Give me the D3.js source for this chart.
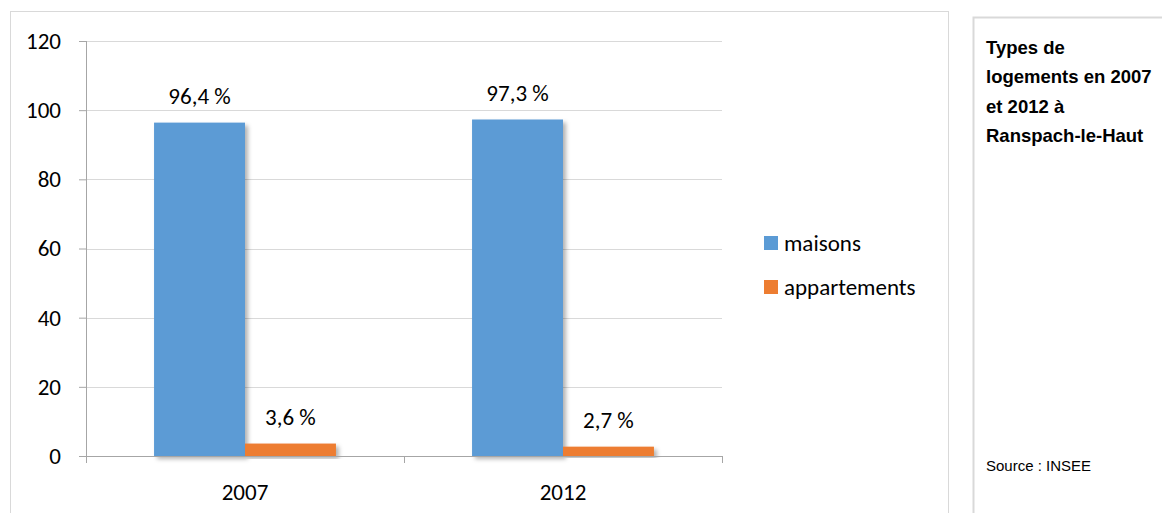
<!DOCTYPE html>
<meta charset="utf-8">
<style>
body { margin: 0; background: #fff; }
.tick text { font-family: Carlito, Calibri, "Open Sans", sans-serif; font-size: 23px; fill: #000; }
.label { font-family: Carlito, Calibri, "Open Sans", sans-serif; font-size: 23px; fill: #000; }
.side { font-family: "Liberation Sans", Arial, sans-serif; fill: #000; }
</style>
<body>
<script src="https://d3js.org/d3.v7.min.js"></script>
<script>

var years = ["2007", "2012"];
var series = ["maisons", "appartements"];
var maisons = [96.4, 97.3];
var appartements = [3.6, 2.7];
var yTicks = [0, 20, 40, 60, 80, 100, 120];
var colors = ["#5b9bd5", "#ed7d31"];
var titleLines = ["Types de", "logements en 2007", "et 2012 à", "Ranspach-le-Haut"];
var source = "Source : INSEE";

var values = [maisons, appartements];
var plot = {left: 86, right: 722, top: 41, bottom: 456};

var svg = d3.select("body").append("svg")
    .attr("width", 1162)
    .attr("height", 513);

var defs = svg.append("defs");
var f = defs.append("filter").attr("id", "shadow")
    .attr("x", "-10%").attr("y", "-10%").attr("width", "130%").attr("height", "130%");
f.append("feDropShadow").attr("dx", 3).attr("dy", 3).attr("stdDeviation", 2)
    .attr("flood-color", "#000").attr("flood-opacity", 0.3);

// chart frame
svg.append("rect")
    .attr("x", 10.5).attr("y", 11.5).attr("width", 938).attr("height", 520)
    .style("fill", "none").style("stroke", "#d9d9d9");

// side box
svg.append("rect")
    .attr("x", 973.5).attr("y", 17.5).attr("width", 200).attr("height", 520)
    .style("fill", "none").style("stroke", "#d9d9d9").style("stroke-width", 2);

var x = d3.scaleBand().domain(years).range([plot.left, plot.right]);
var x1 = d3.scaleBand().domain(series)
    .range([x.bandwidth() * 0.214, x.bandwidth() * 0.786]);
var y = d3.scaleLinear().domain([0, 120]).range([plot.bottom, plot.top]);

// gridlines
svg.append("g")
    .selectAll("line")
    .data(yTicks.slice(1))
    .enter().append("line")
    .attr("x1", plot.left).attr("x2", plot.right)
    .attr("y1", function(d) { return Math.round(y(d)) + 0.5; })
    .attr("y2", function(d) { return Math.round(y(d)) + 0.5; })
    .style("stroke", "#d9d9d9");

// bars
years.forEach(function(yr, i) {
  series.forEach(function(s, j) {
    var v = values[j][i];
    svg.append("rect")
      .attr("x", x(yr) + x1(s))
      .attr("y", y(v))
      .attr("width", x1.bandwidth())
      .attr("height", y(0) - y(v))
      .attr("filter", "url(#shadow)")
      .style("fill", colors[j]);
    svg.append("text")
      .attr("class", "label")
      .attr("x", x(yr) + x1(s) + x1.bandwidth() / 2)
      .attr("y", y(v) - 19)
      .style("text-anchor", "middle")
      .text(d3.format(".1f")(v).replace(".", ",") + " %");
  });
});

// axes
var yAxis = svg.append("g")
    .attr("transform", "translate(" + plot.left + ",0)")
    .call(d3.axisLeft(y).tickValues(yTicks).tickSize(7).tickPadding(18));
yAxis.select(".domain").style("stroke", "#a6a6a6")
    .attr("d", "M0.5," + plot.top + "V" + (plot.bottom + 7));
yAxis.selectAll(".tick line").style("stroke", "#a6a6a6");

var xAxis = svg.append("g")
    .attr("transform", "translate(0," + plot.bottom + ")")
    .call(d3.axisBottom(x).tickSize(0).tickPadding(28));
xAxis.select(".domain").remove();
xAxis.append("line")
    .attr("x1", plot.left - 7).attr("x2", plot.right)
    .attr("y1", 0.5).attr("y2", 0.5)
    .style("stroke", "#a6a6a6");
xAxis.selectAll(".xt")
    .data([x("2012"), plot.right])
    .enter().append("line")
    .attr("x1", function(d) { return Math.round(d) + 0.5; })
    .attr("x2", function(d) { return Math.round(d) + 0.5; })
    .attr("y1", 0).attr("y2", 7)
    .style("stroke", "#a6a6a6");

// legend
var legend = svg.append("g").attr("transform", "translate(764,243)");
series.forEach(function(s, j) {
  var g = legend.append("g").attr("transform", "translate(0," + (j * 44) + ")");
  g.append("rect").attr("x", 0).attr("y", -7).attr("width", 14).attr("height", 14)
    .style("fill", colors[j]);
  g.append("text").attr("class", "label").attr("x", 20).attr("y", 0)
    .attr("dy", "0.35em").text(s);
});

// side text
svg.append("g").selectAll("text")
    .data(titleLines)
    .enter().append("text")
    .attr("class", "side")
    .attr("x", 986)
    .attr("y", function(d, i) { return 54 + i * 29.3; })
    .style("font-weight", "bold")
    .style("font-size", "18.5px")
    .text(function(d) { return d; });

svg.append("text")
    .attr("class", "side")
    .attr("x", 986)
    .attr("y", 471)
    .style("font-size", "15px")
    .text(source);

</script>
</body>
